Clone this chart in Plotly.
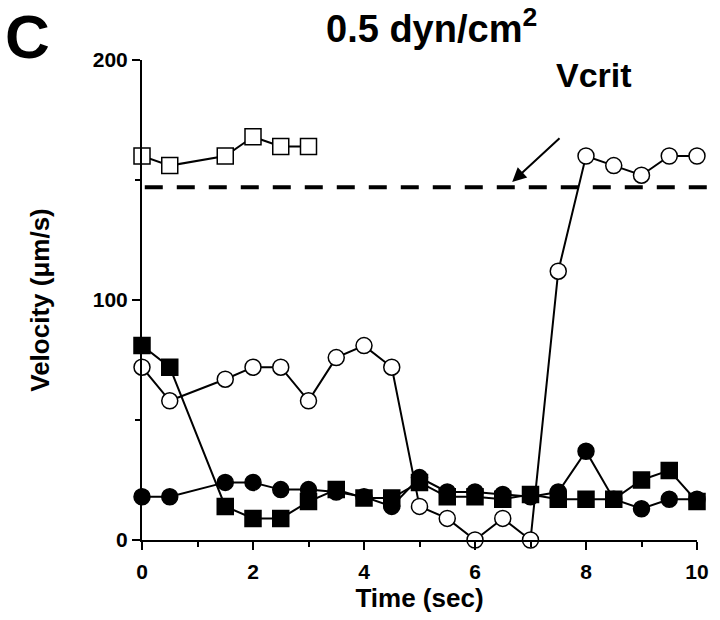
import plotly.graph_objects as go

# Data
t_open_sq = [0, 0.5, 1.5, 2, 2.5, 3]
v_open_sq = [160, 156, 160, 168, 164, 164]

t_all = [0, 0.5, 1.5, 2, 2.5, 3, 3.5, 4, 4.5, 5, 5.5, 6, 6.5, 7, 7.5, 8, 8.5, 9, 9.5, 10]
v_open_circ = [72, 58, 67, 72, 72, 58, 76, 81, 72, 14, 9, 0, 9, 0, 112, 160, 156, 152, 160, 160]
v_fill_sq = [81, 72, 14, 9, 9, 16, 21, 17.5, 17.5, 24, 18, 18, 17, 19, 17, 17, 17, 25, 29, 16]
v_fill_circ = [18, 18, 24, 24, 21, 21, 20, 18, 14, 26, 20, 20, 19, 18, 20, 37, 17, 13, 17, 17]

v_crit = 147
x_ticks = [0, 2, 4, 6, 8, 10]
y_ticks = [0, 100, 200]

FONT = "Liberation Sans"
fig = go.Figure()

def add(x, y, sym, fill):
    fig.add_trace(go.Scatter(
        x=x, y=y, mode="lines+markers", cliponaxis=False,
        line=dict(color="black", width=2),
        marker=dict(symbol=sym, size=16,
                    color="black" if fill else "white",
                    line=dict(color="black", width=1.5)),
        showlegend=False))

add(t_all, v_fill_circ, "circle", True)
add(t_all, v_fill_sq, "square", True)
add(t_all, v_open_circ, "circle", False)
add(t_open_sq, v_open_sq, "square", False)

fig.add_shape(type="line", xref="paper", yref="y", x0=0.005, x1=1.05, y0=v_crit, y1=v_crit,
              line=dict(color="black", width=4, dash="18px,14px"))

def bold(size):
    return dict(family=FONT, size=size, color="black", weight="bold")

fig.add_annotation(x=6.67, y=149.2, ax=7.55, ay=168, xref="x", yref="y", axref="x", ayref="y",
                   text="", showarrow=True, arrowhead=2, arrowsize=1.4, arrowwidth=2, arrowcolor="black")
fig.add_annotation(x=8.14, y=193.7, xref="x", yref="y", text="Vcrit", showarrow=False,
                   font=bold(34))
fig.add_annotation(x=0.521, y=1.125, xref="paper", yref="paper", xanchor="center", yanchor="top",
                   text="0.5 dyn/cm<sup>2</sup>", showarrow=False, font=bold(38))
fig.add_annotation(x=-0.2063, y=1.125, xref="paper", yref="paper", xanchor="center", yanchor="top",
                   text="C", showarrow=False, font=bold(62))

fig.update_layout(
    width=720, height=620,
    margin=dict(l=142, r=23, t=60, b=80, autoexpand=False),
    paper_bgcolor="white", plot_bgcolor="white",
    font=dict(family=FONT, color="black"),
    xaxis=dict(range=[0, 10], showgrid=False, zeroline=False, showline=True, linecolor="black",
               linewidth=2, ticks="outside", ticklen=8, tickwidth=2, tickcolor="black",
               tickvals=x_ticks, tickfont=bold(21), ticklabelstandoff=4,
               minor=dict(tickvals=[1, 3, 5, 7, 9], ticks="outside", ticklen=5, tickwidth=1.5, tickcolor="black"),
               title=dict(text="Time (sec)", font=bold(26), standoff=4)),
    yaxis=dict(range=[0, 200], showgrid=False, zeroline=False, showline=True, linecolor="black",
               linewidth=2, ticks="outside", ticklen=8, tickwidth=2, tickcolor="black",
               tickvals=y_ticks, tickfont=bold(21),
               minor=dict(tickvals=[50, 150], ticks="outside", ticklen=5, tickwidth=1.5, tickcolor="black"),
               title=dict(text="Velocity (μm/s)", font=bold(26), standoff=36)),
)

fig.write_html("out.html", config={"displayModeBar": False},
               post_script="document.body.style.margin='0';")
